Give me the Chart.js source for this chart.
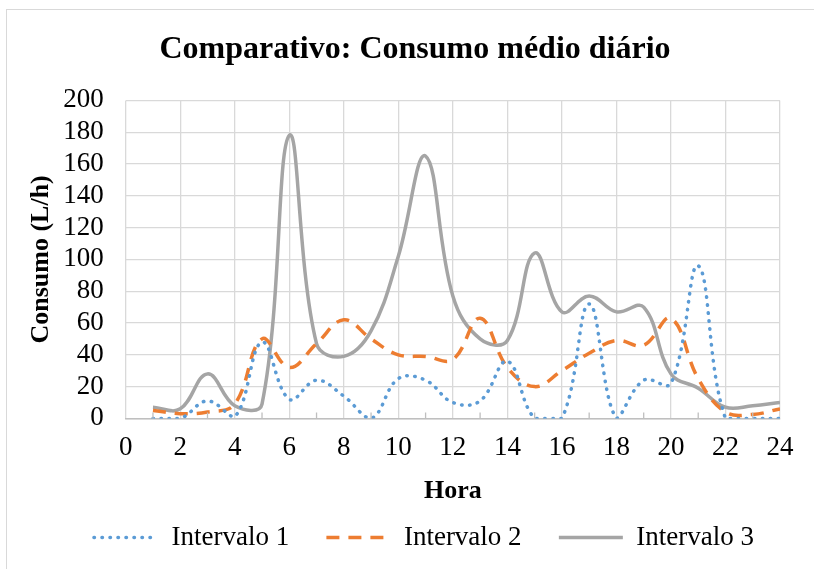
<!DOCTYPE html>
<html>
<head>
<meta charset="utf-8">
<script src="https://cdn.jsdelivr.net/npm/chart.js@4"></script>
<style>
  html, body { margin: 0; padding: 0; background: #fff; }
  #wrap { position: relative; width: 814px; height: 569px; overflow: hidden; }
  #frame { position: absolute; left: 6px; top: 9px; width: 900px; height: 700px; border: 1.5px solid #d9d9d9; }
  canvas { position: absolute; left: 0; top: 0; }
</style>
</head>
<body>
<div id="wrap">
  <div id="frame"></div>
  <canvas id="consumoChart" width="814" height="569"></canvas>
</div>
<script>
// dados
var horas = [1,2,3,4,5,6,7,8,9,10,11,12,13,14,15,16,17,18,19,20,21,22,23,24];
var intervalo1 = [0,0,11,1,48,12,24,14,0,25,24,10,11,36,0,0,72,0,24,22,96,0,0,0];
var intervalo2 = [5,3,4,9,50,32,47,62,50,40,39,37,63,32,20,30,41,49,46,63,25,4,2.5,6];
var intervalo3 = [7,6,28,8,9,178,47,39,55,102,165,77,50,49,104,67,77,67,70,28,19,7,8,10];
var xTicks = [0,2,4,6,8,10,12,14,16,18,20,22,24];
var xMenores = [1,3,5,7,9,11,13,15,17,19,21,23];
var yTicks = [0,20,40,60,80,100,120,140,160,180,200];

function pontos(vals){
    var out = [];
    for(var i=0;i<horas.length;i++){
        out.push({x: horas[i], y: vals[i]});
    }
    return out;
}

var serif = "'Liberation Serif', 'Times New Roman', serif";

var data = {
    datasets: [
    {
        label: "Intervalo 1",
        data: pontos(intervalo1),
        borderColor: "#5B9BD5",
        backgroundColor: "#5B9BD5",
        borderWidth: 3.5,
        borderDash: [0.5, 7.5],
        borderCapStyle: "round",
        tension: 0.4,
        pointRadius: 0
    },
    {
        label: "Intervalo 2",
        data: pontos(intervalo2),
        borderColor: "#ED7D31",
        backgroundColor: "#ED7D31",
        borderWidth: 3.5,
        borderDash: [13, 9],
        tension: 0.4,
        pointRadius: 0
    },
    {
        label: "Intervalo 3",
        data: pontos(intervalo3),
        borderColor: "#A5A5A5",
        backgroundColor: "#A5A5A5",
        borderWidth: 3.5,
        tension: 0.4,
        pointRadius: 0
    }
    ]
};

// legenda com o traço de cada serie
function legendaLabels(chart){
    var items = Chart.defaults.plugins.legend.labels.generateLabels(chart);
    items.forEach(function(it, i){
        var ds = chart.data.datasets[it.datasetIndex];
        it.lineDash = ds.borderDash || [];
        it.lineWidth = ds.borderWidth;
        it.lineCap = ds.borderCapStyle || 'butt';
        it.strokeStyle = ds.borderColor;
        if(i < items.length-1) it.text = it.text + '   ';
    });
    return items;
}

// empurra titulo e legenda um pouco para a direita, como no original
var deslocar = {
    id: 'deslocar',
    afterLayout: function(chart){
        chart.titleBlock.left += 12; chart.titleBlock.right += 12;
        chart.legend.left += 21; chart.legend.right += 21;
    }
};

// marcas menores no eixo x (horas impares)
var marcasMenores = {
    id: 'marcasMenores',
    afterDatasetsDraw: function(chart){
        var c = chart.ctx, sx = chart.scales.x, base = chart.chartArea.bottom;
        c.save();
        c.strokeStyle = '#bfbfbf';
        c.lineWidth = 1.3;
        c.beginPath();
        xMenores.forEach(function(v){
            var px = sx.getPixelForValue(v);
            c.moveTo(px, base);
            c.lineTo(px, base - 6);
        });
        c.stroke();
        c.restore();
    }
};

var options = {
    responsive: false,
    animation: false,
    layout: { padding: { left: 26, right: 34, top: 14, bottom: 8 } },
    plugins: {
        title: {
            display: true,
            text: "Comparativo: Consumo médio diário",
            color: "#000",
            font: { family: serif, size: 32, weight: "bold" },
            padding: { top: 17, bottom: 31 }
        },
        legend: {
            position: "bottom",
            labels: {
                color: "#000",
                font: { family: serif, size: 27 },
                usePointStyle: true,
                pointStyle: "line",
                pointStyleWidth: 64,
                padding: 17,
                generateLabels: legendaLabels
            }
        },
        tooltip: { enabled: false }
    },
    scales: {
        x: {
            type: "linear",
            min: 0,
            max: 24,
            afterBuildTicks: function(axis){
                axis.ticks = xTicks.map(function(v){ return {value: v}; });
            },
            ticks: { color: "#000", font: { family: serif, size: 27 }, padding: 13, maxRotation: 0, autoSkip: false },
            grid: { color: "#d9d9d9", lineWidth: 1.3, drawTicks: false },
            border: { color: "#bfbfbf", width: 1.5 },
            title: {
                display: true,
                text: "Hora",
                color: "#000",
                font: { family: serif, size: 26, weight: "bold" },
                padding: { top: -1, bottom: 0 }
            }
        },
        y: {
            min: 0,
            max: 200,
            afterBuildTicks: function(axis){
                axis.ticks = yTicks.map(function(v){ return {value: v}; });
            },
            ticks: { color: "#000", font: { family: serif, size: 27 }, padding: 22, autoSkip: false },
            grid: { color: "#d9d9d9", lineWidth: 1.3, drawTicks: false },
            border: { display: false },
            title: {
                display: true,
                text: "Consumo (L/h)",
                color: "#000",
                font: { family: serif, size: 26, weight: "bold" },
                padding: { top: 0, bottom: -16 }
            }
        }
    }
};

var ctx = document.getElementById("consumoChart").getContext("2d");
var consumoChart = new Chart(ctx, {
    type: "line",
    data: data,
    options: options,
    plugins: [deslocar, marcasMenores]
});
</script>
</body>
</html>
